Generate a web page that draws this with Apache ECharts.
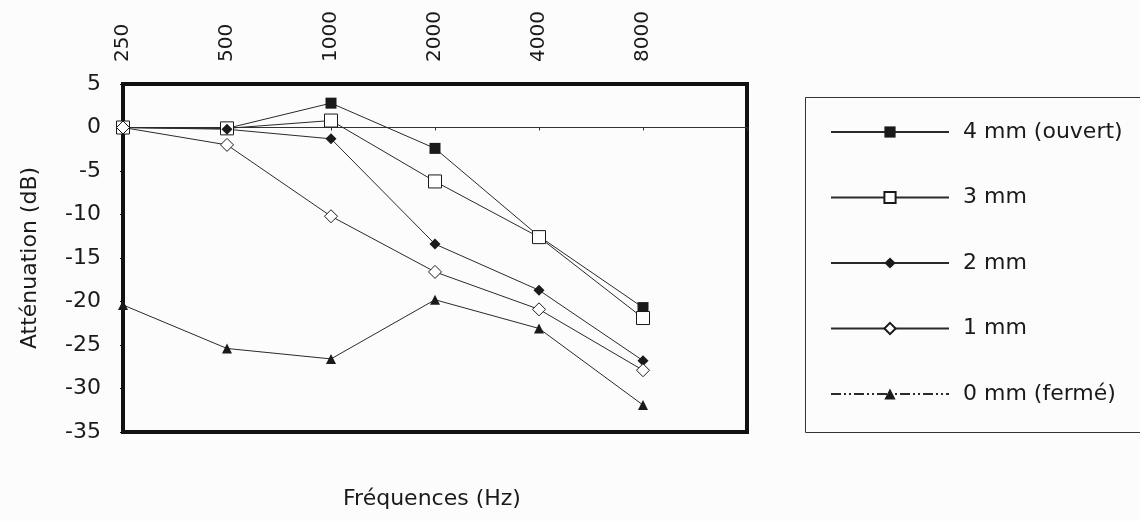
<!DOCTYPE html>
<html>
<head>
<meta charset="utf-8">
<script src="https://cdn.jsdelivr.net/npm/echarts@6/dist/echarts.min.js"></script>
<style>
html,body{margin:0;padding:0;background:#fcfcfc;}
#chart{width:1140px;height:521px;}
</style>
</head>
<body>
<div id="chart"></div>
<script>
const frequencies = ['250', '500', '1000', '2000', '4000', '8000', ''];
const seriesNames = ['4 mm (ouvert)', '3 mm', '2 mm', '1 mm', '0 mm (fermé)'];
const mm4 = [0, -0.1, 2.8, -2.4, -12.5, -20.7];
const mm3 = [0, -0.1, 0.8, -6.2, -12.6, -21.9];
const mm2 = [0, -0.2, -1.3, -13.4, -18.7, -26.8];
const mm1 = [0, -2.0, -10.2, -16.6, -20.9, -27.9];
const mm0 = [-20.4, -25.4, -26.6, -19.8, -23.1, -31.9];
const yTicks = [5, 0, -5, -10, -15, -20, -25, -30, -35];

const FONT = 'DejaVu Sans';
const INK = '#1a1a1a';
const chart = echarts.init(document.getElementById('chart'));

function mk(name, data, symbol, size, filled, lineType) {
  return {
    name: name, type: 'line', data: data, xAxisIndex: 0, yAxisIndex: 0,
    symbol: symbol, symbolSize: size, showAllSymbol: true,
    lineStyle: { color: '#2a2a2a', width: 1, type: lineType || 'solid' },
    itemStyle: filled ? { color: INK, borderColor: INK, borderWidth: 0 }
                      : { color: '#ffffff', borderColor: INK, borderWidth: 1 },
    emphasis: { disabled: true },
    animation: false
  };
}

chart.setOption({
  backgroundColor: '#fcfcfc',
  animation: false,
  textStyle: { fontFamily: FONT },
  grid: {
    left: 123, top: 84, right: 393, bottom: 89,
    show: true, borderColor: '#111', borderWidth: 4, backgroundColor: 'transparent'
  },
  xAxis: [
    {
      type: 'category', data: frequencies, boundaryGap: false, position: 'top',
      axisLine: { show: false, onZero: false },
      axisTick: { show: false },
      axisLabel: { rotate: -90, interval: 0, margin: 22, fontSize: 20, color: INK, fontFamily: FONT },
      splitLine: { show: false }
    },
    {
      type: 'category', data: frequencies, boundaryGap: false, position: 'bottom',
      axisLine: { show: true, onZero: true, lineStyle: { color: '#333', width: 1 } },
      axisTick: { show: true, interval: 0, length: 3, inside: false, lineStyle: { color: '#333' } },
      axisLabel: { show: false },
      splitLine: { show: false }
    }
  ],
  yAxis: {
    type: 'value', min: -35, max: 5, interval: 5,
    axisLine: { show: false },
    axisTick: { show: true, length: 3, lineStyle: { color: '#111' } },
    axisLabel: {
      fontSize: 22, color: INK, margin: 22, fontFamily: FONT,
      formatter: function (v) { return yTicks.indexOf(v) >= 0 ? String(v) : ''; }
    },
    splitLine: { show: false },
    name: 'Atténuation (dB)', nameLocation: 'middle', nameGap: 82,
    nameTextStyle: { fontSize: 22, color: INK, fontFamily: FONT }
  },
  title: {
    text: 'Fréquences (Hz)', left: 427, top: 483, textAlign: 'center',
    textStyle: { fontSize: 22, fontWeight: 'normal', color: INK, fontFamily: FONT }
  },
  legend: {
    orient: 'vertical', left: 825, top: 116,
    itemWidth: 118, itemHeight: 14, itemGap: 43.5,
    textStyle: { fontSize: 22, color: INK, fontFamily: FONT, lineHeight: 22, padding: [0, 0, 0, 9] },
    data: [
      { name: seriesNames[0] },
      { name: seriesNames[1] },
      { name: seriesNames[2] },
      { name: seriesNames[3] },
      { name: seriesNames[4], lineStyle: { type: [10, 3, 2, 3, 2, 3] } }
    ],
    selectedMode: false
  },
  graphic: [
    { type: 'rect', left: 805, top: 97, shape: { width: 345, height: 335 },
      style: { fill: 'transparent', stroke: '#333', lineWidth: 1 }, z: 0 }
  ],
  series: [
    mk(seriesNames[0], mm4, 'rect', 11, true),
    mk(seriesNames[1], mm3, 'rect', 13, false),
    mk(seriesNames[2], mm2, 'diamond', 11, true),
    mk(seriesNames[3], mm1, 'diamond', 13, false),
    mk(seriesNames[4], mm0, 'triangle', 10, true)
  ]
});
</script>
</body>
</html>
